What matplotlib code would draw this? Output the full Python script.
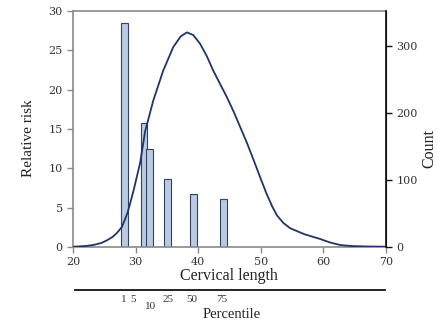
import matplotlib

matplotlib.use("Agg")
import matplotlib.pyplot as plt

plt.rcParams["font.family"] = ["Liberation Serif", "DejaVu Serif"]

# relative risk bars (left axis)
bar_x = [28.2, 31.3, 32.2, 35.05, 39.2, 44.05]
bar_rr = [28.5, 15.7, 12.4, 8.7, 6.7, 6.1]

# distribution of cervical length (right axis, count)
curve_x = [20, 22, 23.2, 24.5, 25.4, 26.3, 27, 27.8, 28.7, 29.6, 30.7, 31.5,
           32.8, 34.4, 36, 37.2, 38.2, 39.2, 40.3, 41.4, 42.4, 43.5, 44.6,
           45.7, 46.7, 47.8, 48.8, 49.9, 50.9, 51.8, 52.6, 53.6, 54.7, 57,
           59.5, 61, 62.7, 64.5, 67, 70]
curve_n = [0.5, 1.5, 3, 6, 10, 15, 21, 30, 51, 82, 125, 172,
           218, 263, 298, 314, 320, 316, 303, 284, 263, 243, 223,
           201, 179, 155, 131, 104, 80, 61, 47, 36, 28, 19,
           12, 7, 3, 1.5, 0.8, 0.5]

# percentile scale under the x axis
pct_labels = ["1", "5", "10", "25", "50", "75"]
pct_x = [28.1, 29.5, 32.3, 35.2, 39.0, 43.8]

GRAY = "#8a8a8a"
BAR = "#b9cbe3"
EDGE = "#34405c"
LINE = "#1f3468"
TXT = "#333333"
TICKFONT = "DejaVu Serif"

fig = plt.figure(figsize=(4.38, 3.2), dpi=100)
ax = fig.add_axes([0.167, 0.228, 0.714, 0.738])

ax.bar(bar_x, bar_rr, width=1.05, color=BAR, edgecolor=EDGE, linewidth=0.8)
ax.set_xlim(20, 70)
ax.set_ylim(0, 30)
ax.set_xticks(range(20, 71, 10))
ax.set_yticks(range(0, 31, 5))
for s in ["left", "bottom", "top"]:
    ax.spines[s].set_color(GRAY)
    ax.spines[s].set_linewidth(1.2)
ax.tick_params(colors=GRAY, labelcolor=TXT, labelsize=8, length=4, width=1)
for t in ax.get_xticklabels() + ax.get_yticklabels():
    t.set_family(TICKFONT)

ax2 = ax.twinx()
ax2.plot(curve_x, curve_n, color=LINE, linewidth=1.3)
ax2.set_ylim(0, 352)
ax2.set_yticks([0, 100, 200, 300])
ax2.spines["right"].set_color("#111111")
ax2.spines["right"].set_linewidth(1.2)
for s in ["left", "bottom", "top"]:
    ax2.spines[s].set_visible(False)
ax2.tick_params(colors="#111111", labelcolor=TXT, labelsize=8, length=4, width=1)
for t in ax2.get_yticklabels():
    t.set_family(TICKFONT)

fig.text(29 / 438, 1 - 138 / 320, "Relative risk", rotation=90, ha="center",
         va="center", fontsize=11, color="#222222")
fig.text(429 / 438, 1 - 148 / 320, "Count", rotation=90, ha="center",
         va="center", fontsize=11.5, color="#222222")
fig.text(229 / 438, 1 - 276 / 320, "Cervical length", ha="center",
         va="center", fontsize=11.5, color="#222222")

# percentile scale: a rule with labels below it
ax3 = fig.add_axes([75 / 438, 1 - 290 / 320, 310 / 438, 0.001])
ax3.set_xlim(20.3, 69.8)
ax3.set_yticks([])
ax3.set_xticks([])
for s in ["left", "right", "top"]:
    ax3.spines[s].set_visible(False)
ax3.spines["bottom"].set_color("#111111")
ax3.spines["bottom"].set_linewidth(1.3)
for lab, x in zip(pct_labels, pct_x):
    dy = -12 if lab == "10" else -7
    ax3.annotate(lab, (x, 0), xytext=(0, dy), textcoords="offset points",
                 ha="center", va="center", fontsize=8, color=TXT)
fig.text(232 / 438, 1 - 314 / 320, "Percentile", ha="center", va="center",
         fontsize=10.5, color="#222222")

fig.savefig("out.png", dpi=100)
